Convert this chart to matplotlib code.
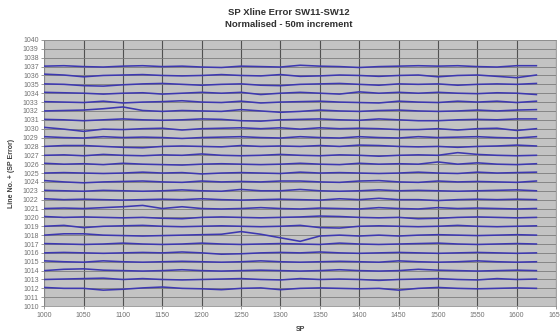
import matplotlib
matplotlib.use("Agg")
import matplotlib.pyplot as plt
import numpy as np

plt.rcParams['font.family'] = ['Liberation Sans', 'DejaVu Sans']

sp = [1000, 1025, 1050, 1075, 1100, 1125, 1150, 1175, 1200, 1225, 1250, 1275, 1300,
      1325, 1350, 1375, 1400, 1425, 1450, 1475, 1500, 1525, 1550, 1575, 1600, 1625]

line_numbers = list(range(1012, 1038))

# SP error (deviation from line number), one list per line
err_1037 = [0.05, 0.1, 0.0, -0.05, 0.05, 0.1, 0.0, 0.05, -0.05, -0.1, 0.05, 0.0, -0.05, 0.15, 0.05, 0.0, -0.1, 0.0, 0.05, 0.1, 0.05, 0.1, 0.0, -0.05, 0.1, 0.1]
err_1036 = [0.15, 0.05, -0.15, 0.0, 0.05, 0.1, 0.0, -0.05, 0.0, 0.1, 0.0, -0.05, 0.1, -0.1, -0.05, 0.05, 0.0, -0.1, 0.0, 0.05, -0.15, 0.0, 0.05, -0.1, -0.25, 0.05]
err_1035 = [0.05, 0.0, -0.15, -0.2, -0.05, 0.05, 0.1, 0.0, -0.1, 0.0, 0.05, -0.1, -0.15, 0.0, 0.05, 0.1, 0.0, -0.1, 0.05, 0.0, 0.05, -0.1, 0.0, 0.05, 0.0, 0.1]
err_1034 = [0.1, 0.05, 0.0, -0.1, 0.0, 0.05, -0.1, 0.0, 0.1, 0.0, 0.1, -0.15, 0.0, 0.1, 0.0, -0.1, 0.15, 0.0, 0.1, 0.0, 0.1, 0.0, -0.05, 0.05, 0.0, -0.15]
err_1033 = [0.05, 0.0, -0.05, 0.1, -0.1, 0.0, 0.05, 0.15, 0.0, -0.05, 0.1, -0.1, 0.0, 0.05, 0.1, 0.0, -0.05, -0.1, 0.1, 0.0, -0.05, 0.1, 0.0, 0.1, -0.05, 0.1]
err_1032 = [0.0, 0.05, 0.1, 0.25, 0.45, 0.05, -0.05, 0.05, 0.0, -0.05, 0.15, 0.0, -0.15, -0.05, 0.1, 0.0, -0.05, 0.05, 0.1, 0.0, -0.05, 0.0, 0.1, 0.0, 0.1, 0.15]
err_1031 = [0.05, 0.0, -0.1, 0.0, 0.1, 0.0, -0.05, 0.0, 0.1, 0.05, -0.1, -0.15, 0.0, 0.05, 0.1, 0.0, -0.05, 0.1, 0.0, -0.1, -0.1, 0.0, 0.05, 0.0, 0.1, 0.1]
err_1030 = [0.15, -0.05, -0.3, -0.05, -0.1, 0.0, 0.05, -0.15, 0.0, 0.05, 0.1, 0.0, 0.1, -0.05, 0.1, 0.0, 0.05, 0.0, -0.1, -0.1, 0.0, -0.15, 0.0, 0.05, -0.2, 0.0]
err_1029 = [0.1, 0.0, -0.05, 0.1, 0.0, 0.05, 0.0, -0.1, 0.0, 0.05, 0.1, 0.0, -0.05, 0.1, 0.0, -0.05, 0.1, 0.0, -0.05, 0.1, 0.0, 0.05, 0.1, 0.0, -0.05, 0.1]
err_1028 = [0.0, 0.1, 0.1, 0.0, -0.1, -0.15, 0.0, 0.05, 0.0, -0.05, 0.1, 0.0, 0.05, 0.0, 0.1, 0.0, 0.15, 0.1, 0.0, -0.05, 0.0, -0.1, 0.0, 0.05, 0.15, 0.05]
err_1027 = [0.0, 0.05, -0.05, 0.1, 0.0, -0.05, 0.05, 0.0, 0.15, 0.0, -0.05, 0.0, 0.1, 0.0, -0.05, 0.05, 0.0, -0.1, 0.0, 0.05, 0.0, 0.3, 0.1, 0.0, -0.05, 0.0]
err_1026 = [0.1, 0.0, 0.05, -0.05, 0.1, 0.0, -0.05, -0.1, 0.0, 0.05, 0.0, -0.05, 0.0, 0.1, 0.0, -0.05, 0.1, 0.0, 0.05, 0.0, 0.25, 0.0, 0.15, 0.0, -0.05, 0.05]
err_1025 = [0.0, 0.05, 0.0, -0.05, 0.0, 0.1, 0.0, 0.05, -0.1, 0.0, 0.05, 0.0, -0.05, 0.1, 0.0, 0.05, 0.0, -0.05, 0.0, 0.1, 0.0, -0.05, 0.1, 0.0, 0.05, 0.1]
err_1024 = [0.15, 0.0, -0.1, 0.0, 0.05, 0.1, 0.0, -0.05, 0.1, 0.0, 0.05, 0.0, 0.1, 0.1, 0.0, -0.05, 0.1, 0.15, 0.0, -0.05, 0.1, 0.0, 0.05, 0.0, -0.05, 0.1]
err_1023 = [0.05, 0.0, -0.05, 0.05, 0.0, -0.05, 0.0, 0.1, 0.0, -0.05, 0.15, 0.0, 0.0, 0.15, 0.0, -0.05, 0.0, 0.1, 0.0, 0.05, 0.0, -0.05, 0.0, 0.05, 0.1, 0.0]
err_1022 = [0.1, 0.0, 0.05, 0.0, -0.05, 0.0, 0.05, 0.0, 0.1, 0.0, -0.05, 0.0, 0.05, 0.0, -0.05, 0.1, 0.0, 0.15, 0.0, 0.0, -0.1, 0.0, 0.05, 0.0, 0.05, 0.0]
err_1021 = [0.0, 0.05, 0.0, 0.1, 0.2, 0.35, 0.0, 0.2, 0.0, -0.05, 0.0, 0.1, 0.0, -0.05, 0.05, 0.0, -0.05, 0.1, 0.0, -0.05, 0.1, 0.0, 0.05, 0.0, -0.05, 0.0]
err_1020 = [0.1, 0.0, 0.05, 0.0, -0.05, 0.0, -0.1, -0.15, 0.0, 0.05, 0.0, -0.05, 0.0, 0.05, 0.15, 0.1, 0.0, -0.05, 0.0, -0.15, -0.1, 0.0, 0.05, 0.0, -0.05, 0.0]
err_1019 = [0.0, 0.1, -0.15, 0.0, 0.05, 0.1, 0.0, -0.05, 0.0, 0.05, 0.0, -0.05, 0.0, 0.1, -0.15, -0.2, 0.0, 0.05, 0.0, -0.05, 0.0, 0.1, 0.0, -0.05, 0.0, 0.05]
err_1018 = [0.0, 0.15, 0.15, 0.0, -0.05, -0.1, -0.05, 0.0, 0.05, 0.1, 0.4, 0.1, -0.3, -0.7, -0.1, 0.0, -0.1, 0.0, -0.1, 0.0, 0.05, 0.0, -0.05, 0.0, 0.05, 0.0]
err_1017 = [0.05, 0.0, -0.05, 0.0, 0.1, 0.0, -0.05, 0.0, 0.1, 0.0, -0.05, 0.0, 0.05, 0.0, -0.05, 0.1, 0.0, -0.05, 0.0, 0.05, 0.1, 0.0, -0.05, 0.0, 0.05, 0.0]
err_1016 = [0.0, 0.05, 0.0, -0.05, 0.0, 0.05, 0.0, 0.1, 0.0, -0.15, -0.1, 0.0, 0.05, 0.0, 0.1, 0.0, -0.05, 0.0, 0.05, 0.0, -0.05, 0.0, 0.05, 0.0, -0.05, 0.0]
err_1015 = [0.1, 0.0, -0.05, 0.1, 0.0, -0.05, 0.0, 0.05, 0.0, -0.05, 0.0, 0.1, 0.0, -0.05, 0.0, 0.05, 0.0, -0.05, 0.1, 0.0, -0.05, 0.0, 0.1, 0.0, -0.05, 0.0]
err_1014 = [0.0, 0.15, 0.2, 0.05, 0.0, -0.05, 0.0, 0.1, 0.0, -0.05, 0.0, 0.05, 0.0, -0.05, 0.0, 0.1, 0.0, -0.05, 0.0, 0.15, 0.05, 0.0, -0.05, 0.0, 0.05, 0.0]
err_1013 = [0.0, 0.05, 0.1, 0.15, 0.0, 0.1, 0.0, -0.05, 0.0, 0.05, 0.1, 0.0, -0.05, 0.1, 0.0, 0.05, 0.0, -0.1, 0.0, 0.05, 0.1, 0.0, -0.05, 0.1, 0.0, 0.05]
err_1012 = [0.1, 0.0, 0.0, -0.2, -0.1, 0.05, 0.15, 0.0, -0.05, -0.15, 0.0, 0.05, -0.15, 0.0, 0.05, 0.0, -0.05, 0.0, -0.2, 0.0, 0.1, 0.0, -0.05, 0.0, 0.05, 0.0]

errors = [err_1012, err_1013, err_1014, err_1015, err_1016, err_1017, err_1018,
          err_1019, err_1020, err_1021, err_1022, err_1023, err_1024, err_1025,
          err_1026, err_1027, err_1028, err_1029, err_1030, err_1031, err_1032,
          err_1033, err_1034, err_1035, err_1036, err_1037]

fig = plt.figure(figsize=(5.6, 3.36), dpi=100)
ax = fig.add_axes([0.079, 0.089, 0.914, 0.792])
ax.set_facecolor('#c3c3c3')

for ln, err in zip(line_numbers, errors):
    ax.plot(sp, np.array(err) + ln, color='#3d38b0', lw=1.15, zorder=3,
            solid_joinstyle='round')

ax.set_xlim(1000, 1650)
ax.set_ylim(1010, 1040)
ax.set_xticks(range(1000, 1651, 50))
ax.set_yticks(range(1010, 1041, 1))
ax.grid(True, axis='y', color='#7c7c7c', lw=0.6, zorder=1)
ax.grid(True, axis='x', color='#505050', lw=0.8, zorder=1)
ax.set_axisbelow(True)
for s in ax.spines.values():
    s.set_color('#909090')
    s.set_linewidth(0.6)
ax.tick_params(axis='both', labelsize=5, colors='#707070', length=2, width=0.5, pad=2)

ax.set_xlabel('SP', fontsize=5, fontweight='bold', color='#404040', labelpad=5)
ax.set_ylabel('Line No. + (SP Error)', fontsize=5, fontweight='bold', color='#404040', labelpad=6)

fig.text(0.515, 0.963, 'SP Xline Error SW11-SW12', ha='center', va='center',
         fontsize=6.8, fontweight='bold', color='#303030')
fig.text(0.515, 0.927, 'Normalised - 50m increment', ha='center', va='center',
         fontsize=6.8, fontweight='bold', color='#303030')

fig.savefig('out.png', dpi=100, facecolor='white')
